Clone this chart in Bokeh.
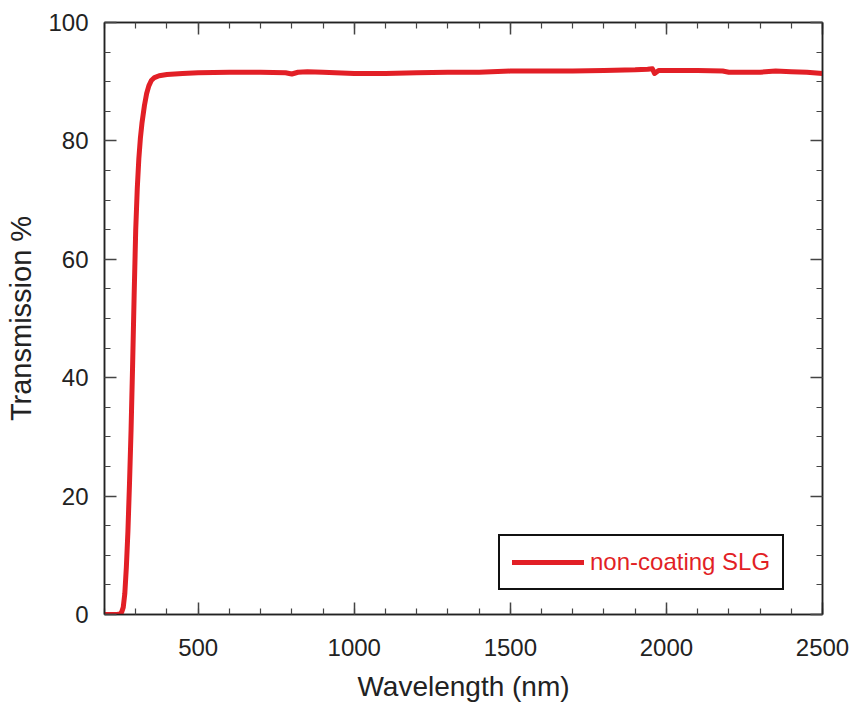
from bokeh.plotting import figure
from bokeh.models import LinearAxis, SingleIntervalTicker, Range1d, Legend, LegendItem, CustomJSTickFormatter
from bokeh.embed import file_html
from bokeh.resources import INLINE

wavelength = [200, 220, 240, 250, 255, 260, 265, 270, 275, 280, 285, 290, 295, 300, 305, 310,
              315, 320, 328, 335, 342, 350, 360, 375, 400, 450, 500, 600, 700, 780, 800, 820,
              850, 900, 1000, 1100, 1200, 1300, 1400, 1500, 1600, 1700, 1800, 1900, 1940,
              1955, 1962, 1975, 2000, 2100, 2180, 2200, 2300, 2350, 2400, 2450, 2500]
transmission = [0.0, 0.0, 0.0, 0.1, 0.4, 1.2, 3.5, 8.0, 14.0, 22.0, 31.0, 42.0, 54.0, 65.0, 72.0, 77.0,
                80.5, 83.0, 86.0, 88.0, 89.3, 90.2, 90.7, 91.0, 91.2, 91.4, 91.5, 91.6, 91.6, 91.5, 91.3, 91.6,
                91.7, 91.6, 91.4, 91.4, 91.5, 91.6, 91.6, 91.8, 91.8, 91.8, 91.9, 92.0, 92.1,
                92.2, 91.4, 91.9, 91.9, 91.9, 91.8, 91.6, 91.6, 91.8, 91.7, 91.6, 91.4]

x_ticks_interval = 500
y_ticks_interval = 20
series_label = "non-coating SLG"
x_label = "Wavelength (nm)"
y_label = "Transmission %"

RED = "#E21F26"
FONT = "Liberation Sans"

p = figure(width=850, height=704, output_backend="svg", toolbar_location=None,
           x_range=Range1d(200, 2500), y_range=Range1d(0, 100),
           min_border_left=104, min_border_right=28, min_border_top=22, min_border_bottom=90,
           x_axis_label=x_label, y_axis_label=y_label)
p.xgrid.visible = False
p.ygrid.visible = False
p.outline_line_color = "#222222"
p.outline_line_width = 1.5
p.background_fill_color = "white"
p.border_fill_color = "white"

r = p.line(wavelength, transmission, line_color=RED, line_width=5, line_join="round", line_cap="round")

def style(ax, interval, nminor, labels=True):
    ax.ticker = SingleIntervalTicker(interval=interval, num_minor_ticks=nminor)
    ax.major_tick_in = 12
    ax.major_tick_out = 0
    ax.minor_tick_in = 6
    ax.minor_tick_out = 0
    ax.axis_line_color = "#222222"
    ax.axis_line_width = 1.5
    ax.major_tick_line_color = "#444444"
    ax.minor_tick_line_color = "#444444"
    ax.major_tick_line_width = 1.5
    ax.minor_tick_line_width = 1.2
    ax.major_label_text_font = FONT
    ax.major_label_text_color = "#222222"
    ax.axis_label_text_font = FONT
    ax.axis_label_text_font_style = "normal"
    ax.axis_label_text_color = "#222222"
    if not labels:
        ax.formatter = CustomJSTickFormatter(code="return ''")
        ax.major_label_standoff = 0

style(p.xaxis[0], x_ticks_interval, 5)
style(p.yaxis[0], y_ticks_interval, 4)
p.xaxis[0].major_label_text_font_size = "24px"
p.xaxis[0].major_label_standoff = 24
p.xaxis[0].axis_label_text_font_size = "28px"
p.xaxis[0].axis_label_standoff = 12
p.yaxis[0].major_label_text_font_size = "24px"
p.yaxis[0].major_label_standoff = 16
p.yaxis[0].axis_label_text_font_size = "29px"
p.yaxis[0].axis_label_standoff = 8

top = LinearAxis()
style(top, x_ticks_interval, 5, labels=False)
p.add_layout(top, "above")
right = LinearAxis()
style(right, y_ticks_interval, 4, labels=False)
p.add_layout(right, "right")

legend = Legend(items=[LegendItem(label=series_label, renderers=[r])],
                location=(394, 24), orientation="vertical")
legend.label_text_font = FONT
legend.label_text_font_size = "24px"
legend.label_text_color = RED
legend.border_line_color = "#111111"
legend.border_line_alpha = 1
legend.border_line_width = 2.5
legend.glyph_width = 72
legend.glyph_height = 24
legend.padding = 12
legend.margin = 0
legend.spacing = 0
legend.label_standoff = 6
legend.background_fill_alpha = 1
p.add_layout(legend, "center")

open("out.html", "w").write(file_html(p, INLINE))
